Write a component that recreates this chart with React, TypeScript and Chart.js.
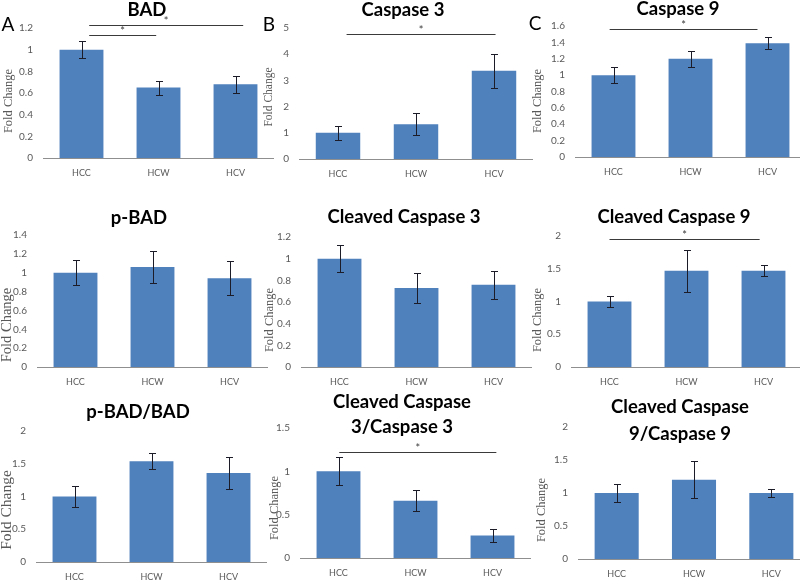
import React, { useEffect, useRef } from "react";
import { Chart, registerables } from "chart.js";

Chart.register(...registerables);

// ---------- data ----------
const categories = ["HCC", "HCW", "HCV"];

const badValues = [1.0, 0.65, 0.68];
const badErrors = [0.08, 0.065, 0.08];
const casp3Values = [1.0, 1.33, 3.37];
const casp3Errors = [0.27, 0.41, 0.65];
const casp9Values = [1.0, 1.2, 1.39];
const casp9Errors = [0.1, 0.1, 0.07];
const pBadValues = [1.0, 1.06, 0.94];
const pBadErrors = [0.135, 0.17, 0.18];
const clCasp3Values = [1.0, 0.73, 0.76];
const clCasp3Errors = [0.125, 0.135, 0.13];
const clCasp9Values = [1.0, 1.47, 1.47];
const clCasp9Errors = [0.09, 0.32, 0.08];
const pBadRatioValues = [1.0, 1.54, 1.36];
const pBadRatioErrors = [0.165, 0.12, 0.24];
const clCasp3RatioValues = [1.0, 0.66, 0.26];
const clCasp3RatioErrors = [0.16, 0.12, 0.078];
const clCasp9RatioValues = [1.0, 1.2, 1.0];
const clCasp9RatioErrors = [0.135, 0.28, 0.065];

// y-axis maxima and tick steps
const axisMax = [1.2, 5, 1.6, 1.4, 1.2, 2, 2, 1.5, 2];
const axisStep = [0.2, 1, 0.2, 0.2, 0.2, 0.5, 0.5, 0.5, 0.5];

// significance brackets: [from category index, to category index, value]
const badSig = [[0.1, 2.1, 1.228], [0.1, 0.97, 1.136]];
const casp3Sig = [[0.11, 2.02, 4.76]];
const casp9Sig = [[-0.05, 1.87, 1.563]];
const clCasp9Sig = [[0.0, 1.95, 1.95]];
const clCasp3RatioSig = [[0.01, 2.05, 1.224]];

// ---------- styles / layout ----------
const BAR_COLOR = "#4f81bd";
const AXIS_COLOR = "#8f8f8f";
const TEXT_GRAY = "#595959";
const SANS = "Lato, 'Open Sans', sans-serif";
const SERIF = "'Liberation Serif', 'DejaVu Serif', serif";
const Y_AXIS_W = 50;
const PAD_TOP = 45;
const X_AXIS_H = 30;

type Panel = {
  values: number[];
  errors: number[];
  max: number;
  step: number;
  title: string[];
  sig: number[][];
  letter?: string;
  cl: number; cr: number; ct: number; cb: number;
  tx: number; ty: number; tGap?: number;
  yx: number; yy: number; ys: number;
  lx?: number; ly?: number;
};

const panels: Panel[] = [
  { values: badValues, errors: badErrors, max: axisMax[0], step: axisStep[0], title: ["BAD"], sig: badSig, letter: "A",
    cl: 43, cr: 274, ct: 28, cb: 158, tx: 147, ty: 10, yx: 8.5, yy: 101, ys: 12.5, lx: 8, ly: 25 },
  { values: casp3Values, errors: casp3Errors, max: axisMax[1], step: axisStep[1], title: ["Caspase 3"], sig: casp3Sig, letter: "B",
    cl: 299, cr: 533, ct: 28, cb: 159, tx: 403, ty: 10, yx: 269, yy: 97, ys: 11.5, lx: 269, ly: 25 },
  { values: casp9Values, errors: casp9Errors, max: axisMax[2], step: axisStep[2], title: ["Caspase 9"], sig: casp9Sig, letter: "C",
    cl: 575, cr: 806, ct: 26, cb: 157, tx: 678, ty: 9, yx: 538, yy: 101, ys: 12.5, lx: 535, ly: 24 },
  { values: pBadValues, errors: pBadErrors, max: axisMax[3], step: axisStep[3], title: ["p-BAD"], sig: [],
    cl: 37, cr: 268, ct: 235, cb: 367, tx: 139, ty: 218, yx: 7, yy: 325, ys: 14.5 },
  { values: clCasp3Values, errors: clCasp3Errors, max: axisMax[4], step: axisStep[4], title: ["Cleaved Caspase 3"], sig: [],
    cl: 301, cr: 532, ct: 237, cb: 367, tx: 404, ty: 217, yx: 270, yy: 320, ys: 12.5 },
  { values: clCasp9Values, errors: clCasp9Errors, max: axisMax[5], step: axisStep[5], title: ["Cleaved Caspase 9"], sig: clCasp9Sig,
    cl: 571, cr: 802, ct: 236, cb: 367, tx: 674, ty: 217, yx: 538, yy: 320, ys: 12.5 },
  { values: pBadRatioValues, errors: pBadRatioErrors, max: axisMax[6], step: axisStep[6], title: ["p-BAD/BAD"], sig: [],
    cl: 36, cr: 267, ct: 431, cb: 562, tx: 138, ty: 412, yx: 7, yy: 510, ys: 15.5 },
  { values: clCasp3RatioValues, errors: clCasp3RatioErrors, max: axisMax[7], step: axisStep[7], title: ["Cleaved Caspase", "3/Caspase 3"], sig: clCasp3RatioSig,
    cl: 300, cr: 531, ct: 428, cb: 558, tx: 402, ty: 402, tGap: 25, yx: 275, yy: 508, ys: 12.5 },
  { values: clCasp9RatioValues, errors: clCasp9RatioErrors, max: axisMax[8], step: axisStep[8], title: ["Cleaved Caspase", "9/Caspase 9"], sig: [],
    cl: 578, cr: 810, ct: 427, cb: 559, tx: 680, ty: 407, tGap: 27, yx: 542, yy: 510, ys: 12.5 },
];

function canvasRect(p: Panel) {
  return {
    left: p.cl - Y_AXIS_W,
    top: p.ct - PAD_TOP,
    width: p.cr - p.cl + Y_AXIS_W,
    height: p.cb - p.ct + PAD_TOP + X_AXIS_H,
  };
}

function makePlugin(p: Panel) {
  const r = canvasRect(p);
  return {
    id: "decor",
    afterDatasetsDraw(chart: any) {
      const ctx = chart.ctx;
      const meta = chart.getDatasetMeta(0);
      const y = chart.scales.y;
      ctx.save();
      ctx.strokeStyle = "#1c1c28";
      ctx.lineWidth = 1;
      p.values.forEach((v, i) => {
        const el = meta.data[i];
        if (!el) return;
        const x = Math.round(el.x) + 0.5;
        const yt = Math.round(y.getPixelForValue(v + p.errors[i])) + 0.5;
        const yb = Math.round(y.getPixelForValue(v - p.errors[i])) + 0.5;
        ctx.beginPath();
        ctx.moveTo(x, yt); ctx.lineTo(x, yb);
        ctx.moveTo(x - 3.5, yt); ctx.lineTo(x + 3.5, yt);
        ctx.moveTo(x - 3.5, yb); ctx.lineTo(x + 3.5, yb);
        ctx.stroke();
      });
      ctx.restore();
    },
    afterDraw(chart: any) {
      const ctx = chart.ctx;
      const xs = chart.scales.x;
      const ys = chart.scales.y;
      ctx.save();
      // significance lines
      ctx.strokeStyle = "#3a3a3a";
      ctx.lineWidth = 1;
      ctx.fillStyle = "#3a3a3a";
      ctx.font = `11px ${SANS}`;
      ctx.textAlign = "center";
      ctx.textBaseline = "middle";
      const step = xs.getPixelForValue(1) - xs.getPixelForValue(0);
      const x0 = xs.getPixelForValue(0);
      p.sig.forEach(([a, b, v]) => {
        const xa = x0 + a * step;
        const xb = x0 + b * step;
        const yy = Math.round(ys.getPixelForValue(v)) + 0.5;
        ctx.beginPath();
        ctx.moveTo(xa, yy); ctx.lineTo(xb, yy);
        ctx.stroke();
        ctx.fillText("*", (xa + xb) / 2, yy - 4);
      });
      // title
      ctx.fillStyle = "#000";
      ctx.font = `bold 18.5px ${SANS}`;
      ctx.textBaseline = "middle";
      p.title.forEach((t, i) => {
        ctx.fillText(t, p.tx - r.left, p.ty - r.top + i * (p.tGap || 0));
      });
      // panel letter
      if (p.letter) {
        ctx.font = `19px ${SANS}`;
        ctx.fillText(p.letter, (p.lx as number) - r.left, (p.ly as number) - r.top);
      }
      // y title
      ctx.fillStyle = TEXT_GRAY;
      ctx.font = `${p.ys}px ${SERIF}`;
      ctx.translate(p.yx - r.left, p.yy - r.top);
      ctx.rotate(-Math.PI / 2);
      ctx.fillText("Fold Change", 0, 0);
      ctx.restore();
    },
  };
}

function formatTick(v: number | string) {
  return String(Number(Number(v).toFixed(2)));
}

function BarPanel({ p }: { p: Panel }) {
  const ref = useRef<HTMLCanvasElement | null>(null);
  const r = canvasRect(p);
  useEffect(() => {
    if (!ref.current) return;
    const chart = new Chart(ref.current, {
      type: "bar",
      data: {
        labels: categories,
        datasets: [
          {
            data: p.values,
            backgroundColor: BAR_COLOR,
            borderWidth: 0,
            barPercentage: 0.57,
            categoryPercentage: 1,
          },
        ],
      },
      options: {
        responsive: false,
        animation: false,
        events: [],
        layout: { padding: { top: PAD_TOP, left: 0, right: 0, bottom: 0 } },
        plugins: { legend: { display: false }, tooltip: { enabled: false }, title: { display: false } },
        scales: {
          x: {
            type: "category",
            offset: true,
            grid: { display: false, drawTicks: false },
            border: { display: true, color: AXIS_COLOR, width: 1 },
            ticks: { padding: 10, color: TEXT_GRAY, font: { family: SANS, size: 9 }, maxRotation: 0, autoSkip: false },
            afterFit: (s: any) => { s.height = X_AXIS_H; },
          },
          y: {
            min: 0,
            max: p.max,
            grid: { display: false, drawTicks: false },
            border: { display: false },
            ticks: {
              stepSize: p.step,
              padding: 10,
              color: TEXT_GRAY,
              font: { family: SANS, size: 10 },
              callback: (v: any) => formatTick(v),
            },
            afterFit: (s: any) => { s.width = Y_AXIS_W; },
          },
        },
      } as any,
      plugins: [makePlugin(p)],
    });
    return () => chart.destroy();
  }, []);
  return (
    <canvas
      ref={ref}
      width={r.width}
      height={r.height}
      style={{ position: "absolute", left: r.left, top: r.top, width: r.width, height: r.height }}
    />
  );
}

export default function App() {
  return (
    <div
      style={{
        position: "absolute",
        left: 0,
        top: 0,
        width: 800,
        height: 585,
        overflow: "hidden",
        background: "#fff",
      }}
    >
      {panels.map((p, i) => (
        <BarPanel key={i} p={p} />
      ))}
    </div>
  );
}
